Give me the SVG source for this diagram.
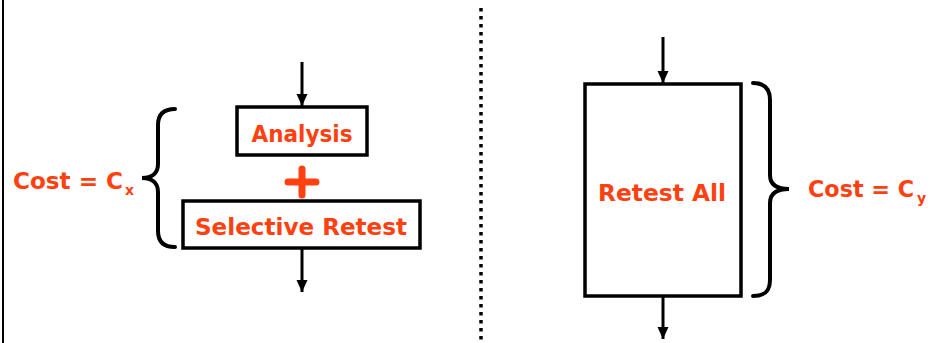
<svg xmlns="http://www.w3.org/2000/svg" width="932" height="343" viewBox="0 0 932 343">
<style>
.box{fill:#fff;stroke:#000;stroke-width:3.5}
.lbl{font-family:"DejaVu Sans",sans-serif;font-weight:bold;font-size:23px;fill:#ff4010}
.sub{font-family:"DejaVu Sans",sans-serif;font-weight:bold;font-size:14px;fill:#ff4010}
.wire{stroke:#000;stroke-width:3;fill:none}
.brace{stroke:#000;stroke-width:4;fill:none;stroke-linecap:round}
</style>
<defs>
<marker id="ah" viewBox="0 0 12 12" refX="12" refY="6" markerWidth="12" markerHeight="12" markerUnits="userSpaceOnUse" orient="auto">
<path d="M0,0.5 L12,6 L0,11.5 Z" fill="#000"/>
</marker>
</defs>
<rect width="932" height="343" fill="#fff"/>
<line x1="3" y1="0" x2="3" y2="343" stroke="#000" stroke-width="2"/>
<line x1="481" y1="8" x2="481" y2="343" stroke="#000" stroke-width="3.5" stroke-dasharray="3.5 4.5"/>
<g id="connectors">
<line class="wire" x1="302" y1="62" x2="302" y2="106" marker-end="url(#ah)"/>
<line class="wire" x1="302" y1="249" x2="302" y2="292" marker-end="url(#ah)"/>
<line class="wire" x1="663" y1="37" x2="663" y2="83" marker-end="url(#ah)"/>
<line class="wire" x1="663" y1="297" x2="663" y2="339" marker-end="url(#ah)"/>
</g>
<g id="analysis">
<rect class="box" x="237" y="107" width="130" height="48"/>
<text class="lbl" x="302" y="142" text-anchor="middle" textLength="101" lengthAdjust="spacingAndGlyphs">Analysis</text>
</g>
<g id="plus">
<path d="M288,182 H316 M302,169 V195" stroke="#ff4010" stroke-width="7" stroke-linecap="round"/>
</g>
<g id="selective-retest">
<rect class="box" x="183" y="201" width="237" height="47"/>
<text class="lbl" x="301" y="235" text-anchor="middle" textLength="212" lengthAdjust="spacingAndGlyphs">Selective Retest</text>
</g>
<g id="brace-left">
<path class="brace" d="M175,109 C164,109 158,114 158,125 V164 C158,173 152,178 142,178 C152,178 158,183 158,192 V231 C158,242 164,247 175,247"/>
<text class="lbl" x="13" y="189" textLength="110" lengthAdjust="spacingAndGlyphs">Cost = C</text>
<text class="sub" x="125" y="195">x</text>
</g>
<g id="retest-all">
<rect class="box" x="585" y="84" width="156" height="212"/>
<text class="lbl" x="662" y="201" text-anchor="middle" textLength="128" lengthAdjust="spacingAndGlyphs">Retest All</text>
</g>
<g id="brace-right">
<path class="brace" d="M753,83 C765,83 770,89 770,100 V175 C770,184 776,189 789,189 C776,189 770,194 770,203 V280 C770,291 765,296 753,296"/>
<text class="lbl" x="808" y="197" textLength="106" lengthAdjust="spacingAndGlyphs">Cost = C</text>
<text class="sub" x="917" y="203">y</text>
</g>
</svg>
